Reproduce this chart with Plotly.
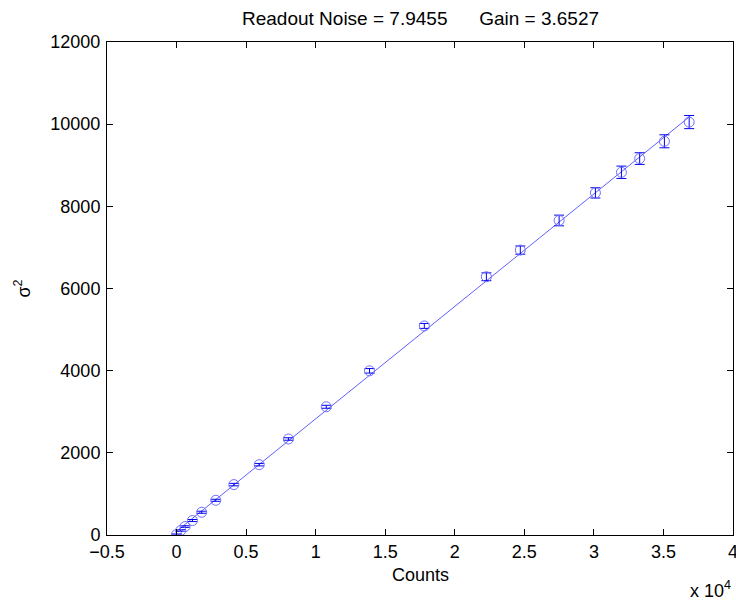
import numpy as np
import plotly.graph_objects as go

# Photon-transfer data: mean counts vs. variance (sigma^2), with error estimates
counts = [0, 300, 610, 1140, 1810, 2820, 4120, 5940, 8040, 10760,
          13870, 17810, 22270, 24710, 27500, 30110, 31980, 33290, 35070, 36850]
variance = [10, 109, 206, 352, 554, 845, 1227, 1712, 2337, 3121,
            3996, 5089, 6286, 6935, 7656, 8327, 8829, 9162, 9583, 10051]
variance_err = [15, 20, 20, 25, 25, 25, 30, 30, 30, 36,
                55, 60, 95, 100, 130, 125, 150, 142, 158, 160]

readout_noise = 7.9455
gain = 3.6527

x_tickvals = [-5000, 0, 5000, 10000, 15000, 20000, 25000, 30000, 35000, 40000]
x_ticktext = ["\u22120.5", "0", "0.5", "1", "1.5", "2", "2.5", "3", "3.5", "4"]
y_tickvals = [0, 2000, 4000, 6000, 8000, 10000, 12000]

# Least-squares line through the measurements
slope, intercept = np.polyfit(counts, variance, 1)
fit_x = np.array([counts[0], counts[-1]])
fit_y = slope * fit_x + intercept

FONT = "Liberation Sans, Arial, sans-serif"

fig = go.Figure()
fig.add_trace(go.Scatter(
    x=fit_x, y=fit_y, mode="lines",
    line=dict(color="rgb(95,95,255)", width=1),
    showlegend=False, hoverinfo="skip",
))
fig.add_trace(go.Scatter(
    x=counts, y=variance, mode="markers",
    marker=dict(symbol="circle-open", size=10,
                color="rgb(110,110,255)", line=dict(width=1, color="rgb(110,110,255)")),
    error_y=dict(type="data", array=variance_err, visible=True,
                 color="rgb(0,0,235)", thickness=1, width=5),
    showlegend=False,
))

axis_common = dict(
    showline=True, linecolor="black", linewidth=1, mirror="ticks",
    ticks="inside", ticklen=6, tickwidth=1, tickcolor="black",
    showgrid=False, zeroline=False, automargin=False,
    tickfont=dict(family=FONT, size=18, color="black"),
)

fig.update_xaxes(range=[-5000, 40000], tickmode="array",
                 tickvals=x_tickvals, ticktext=x_ticktext,
                 ticklabeloverflow="allow", **axis_common)
fig.update_yaxes(range=[0, 12000], tickmode="array",
                 tickvals=y_tickvals, ticktext=[str(v) for v in y_tickvals],
                 ticklabelstandoff=2, **axis_common)

nb = "\u00a0"
fig.update_layout(
    width=736, height=601,
    margin=dict(l=107, r=3, t=42, b=66, autoexpand=False),
    paper_bgcolor="white", plot_bgcolor="white",
    font=dict(family=FONT, size=18, color="black"),
    annotations=[
        dict(text=f"Readout Noise = {readout_noise:.4f}{nb*6}Gain = {gain:.4f}",
             xref="paper", yref="paper", x=0.5, y=1, yshift=24,
             xanchor="center", yanchor="middle", showarrow=False,
             font=dict(family=FONT, size=19, color="black")),
        dict(text="Counts", xref="paper", yref="paper", x=0.5, y=0, yshift=-40,
             xanchor="center", yanchor="middle", showarrow=False,
             font=dict(family=FONT, size=18, color="black")),
        dict(text="σ<sup>2</sup>", xref="paper", yref="paper", x=0, y=0.5,
             xshift=-84, xanchor="center", yanchor="middle", textangle=-90,
             showarrow=False, font=dict(family=FONT, size=18, color="black")),
        dict(text="x 10<sup>4</sup>", xref="paper", yref="paper", x=1, y=0,
             yshift=-54, xanchor="right", yanchor="middle", showarrow=False,
             font=dict(family=FONT, size=18, color="black")),
    ],
)

fig.write_html("out.html")
